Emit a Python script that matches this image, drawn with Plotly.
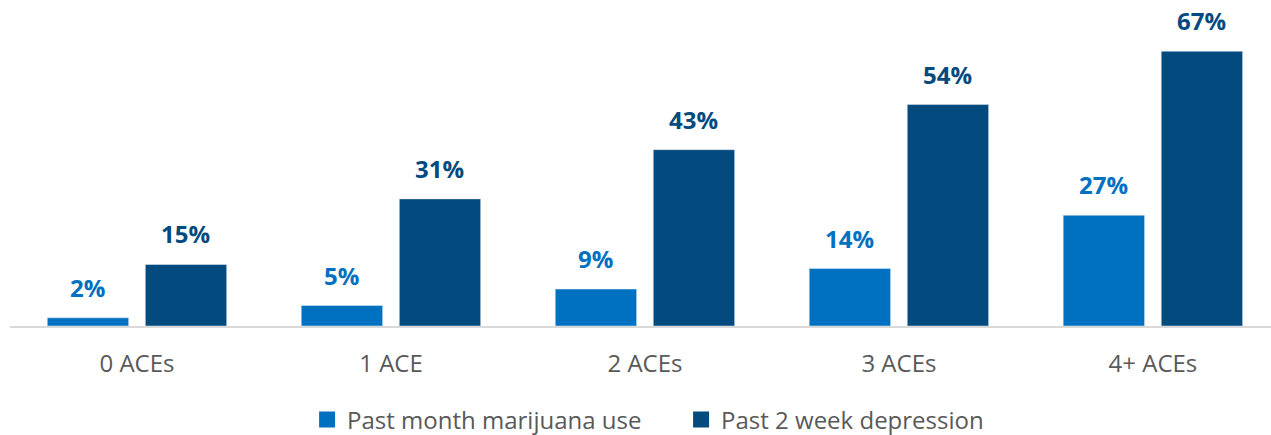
import plotly.graph_objects as go

categories = ["0 ACEs", "1 ACE", "2 ACEs", "3 ACEs", "4+ ACEs"]
marijuana = [2, 5, 9, 14, 27]
depression = [15, 31, 43, 54, 67]
series = [
    ("Past month marijuana use", marijuana, "#0070C0", -49),
    ("Past 2 week depression", depression, "#034A7E", 49),
]

font_family = "'Open Sans', sans-serif"
gray = "#595959"

fig = go.Figure()
annotations = []
for name, values, color, shift in series:
    fig.add_bar(x=categories, y=values, name=name, marker_color=color,
                showlegend=False, hoverinfo="x+y")
    # legend swatch as a square marker
    fig.add_scatter(x=[None], y=[None], mode="markers", name=name,
                    marker=dict(symbol="square", size=16, color=color))
    for cat, v in zip(categories, values):
        annotations.append(dict(
            x=cat, y=v, xref="x", yref="y", text=f"{v}%", showarrow=False,
            xshift=shift, yanchor="bottom", yshift=12,
            font=dict(size=24, color=color, family=font_family, weight="bold"),
        ))

fig.update_layout(
    width=1271, height=435,
    margin=dict(l=10, r=0, t=0, b=109, autoexpand=False),
    plot_bgcolor="white", paper_bgcolor="white",
    barmode="group", bargap=0.228, bargroupgap=0.17,
    font=dict(family=font_family, color=gray, size=24),
    showlegend=True,
    legend=dict(orientation="h", x=0.2356, xanchor="left", y=-0.288, yanchor="middle",
                font=dict(size=24, color=gray), traceorder="normal",
                itemwidth=30, entrywidth=329),
    xaxis=dict(showline=True, linecolor="#d9d9d9", linewidth=2, ticks="",
               range=[-0.5, 4.465], automargin=False,
               ticklabelstandoff=15, tickfont=dict(size=24, color=gray)),
    yaxis=dict(range=[0, 79.5], visible=False, showgrid=False),
    annotations=annotations,
)

fig.write_html("out.html")
